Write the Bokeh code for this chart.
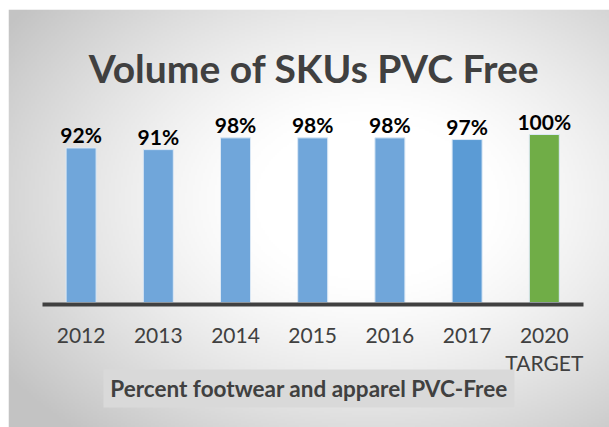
import numpy as np
from bokeh.plotting import figure
from bokeh.models import Range1d, LinearAxis, FixedTicker, Label, BoxAnnotation
from bokeh.core.properties import value
from bokeh.embed import file_html
from bokeh.resources import INLINE

# ---- data ----
years = ["2012", "2013", "2014", "2015", "2016", "2017", "2020\nTARGET"]
values = [92, 91, 98, 98, 98, 97, 100]
value_labels = ["92%", "91%", "98%", "98%", "98%", "97%", "100%"]
bar_colors = ["#70a6da", "#70a6da", "#70a6da", "#70a6da", "#70a6da", "#5b9bd5", "#70ad47"]
title_text = "Volume of SKUs PVC Free"
subtitle_text = "Percent footwear and apparel PVC-Free"

W, H = 609, 427
FL, FT = 8, 9                 # white strip left / top (frame starts here)
PX0, STEP = 80.6, 77.2        # first bar centre, bar spacing (page px)
PY0, YPX = 302.0, 1.68        # page y of value 0, px per unit


def xd(px):
    return (px - PX0) / STEP


def yd(py):
    return (PY0 - py) / YPX


x0, x1 = xd(FL), xd(W)
y0, y1 = yd(H), yd(FT)

p = figure(width=W, height=H, x_range=Range1d(x0, x1), y_range=Range1d(y0, y1),
           output_backend="svg", toolbar_location=None,
           min_border_left=FL, min_border_top=FT, min_border_right=0, min_border_bottom=0,
           x_axis_location=None, y_axis_location=None)
p.grid.visible = False
p.outline_line_color = None
p.background_fill_color = "white"
p.border_fill_color = "white"

# radial gradient background
nx, ny = 300, 210
gx = np.linspace(FL, W, nx)
gy = np.linspace(H, FT, ny)  # row 0 = bottom
GX, GY = np.meshgrid(gx, gy)
t = np.sqrt(((GX - 370) / 330.0) ** 2 + ((GY - 200) / 230.0) ** 2)
shade = 255 - 60 * np.clip((t - 0.35) / 1.0, 0, 1) ** 1.3
img = np.empty((ny, nx), dtype=np.uint32)
v = img.view(dtype=np.uint8).reshape((ny, nx, 4))
s = shade.astype(np.uint8)
v[:, :, 0] = s
v[:, :, 1] = s
v[:, :, 2] = s
v[:, :, 3] = 255
p.image_rgba(image=[img], x=x0, y=y0, dw=x1 - x0, dh=y1 - y0)

idx = list(range(len(years)))
p.vbar(x=idx, top=values, bottom=0, width=30 / STEP, fill_color=bar_colors,
       line_color="#dbe8f5", line_width=1)

p.text(x=idx, y=values, text=value_labels, text_align="center", text_baseline="alphabetic",
       y_offset=-13, text_font=value("Lato"), text_font_style="bold", text_font_size="21px",
       text_color="black")

ax = LinearAxis(ticker=FixedTicker(ticks=idx),
                major_label_overrides={i: y for i, y in enumerate(years)})
ax.fixed_location = yd(304)
ax.bounds = (xd(42), xd(583))
ax.axis_line_color = "#404040"
ax.axis_line_width = 4
ax.major_tick_line_color = None
ax.minor_tick_line_color = None
ax.major_label_text_font = "Lato"
ax.major_label_text_font_size = "21px"
ax.major_label_text_color = "#404040"
ax.major_label_text_line_height = 1.15
ax.major_label_standoff = 11
p.add_layout(ax, "below")

p.add_layout(Label(x=xd(313.5), y=yd(67), text=title_text, text_align="center",
                   text_baseline="alphabetic", text_font="Lato", text_font_style="bold",
                   text_font_size="39px", text_color="#404040"))

p.add_layout(BoxAnnotation(left=xd(103), right=xd(514), top=yd(369), bottom=yd(407),
                           fill_color="#d9d9d9", fill_alpha=1.0, line_color=None))
p.add_layout(Label(x=xd(308.5), y=yd(388), text=subtitle_text, text_align="center",
                   text_baseline="middle", text_font="Lato", text_font_style="bold",
                   text_font_size="22.5px", text_color="#404040"))

open("out.html", "w").write(file_html(p, INLINE))
